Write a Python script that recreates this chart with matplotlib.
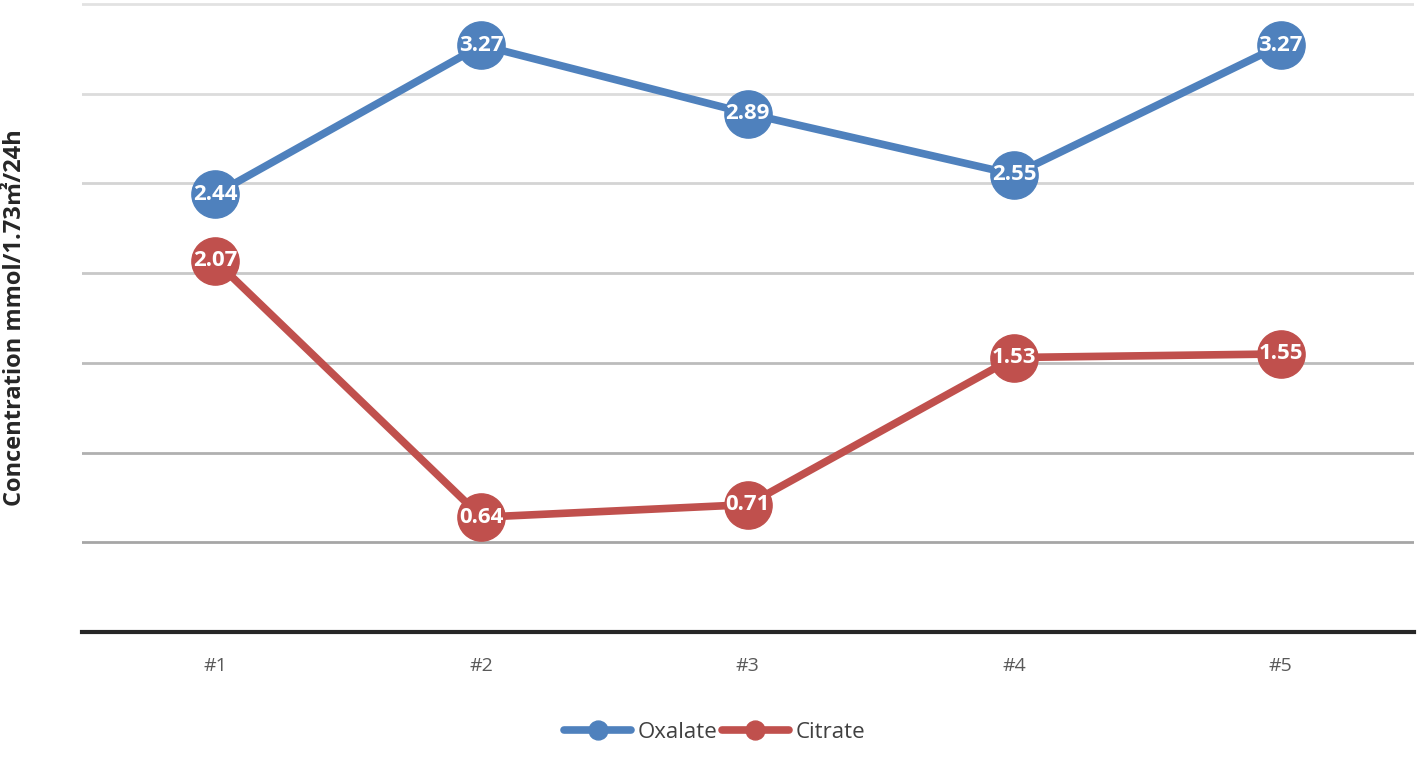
import matplotlib
matplotlib.use('Agg')
import matplotlib.pyplot as plt

plt.rcParams['font.family'] = ['Open Sans', 'Noto Sans CJK SC', 'DejaVu Sans']

categories = ['#1', '#2', '#3', '#4', '#5']
oxalate = [2.44, 3.27, 2.89, 2.55, 3.27]
citrate = [2.07, 0.64, 0.71, 1.53, 1.55]

blue = '#4f81bd'
red = '#c0504d'

fig = plt.figure(figsize=(14.18, 7.59), dpi=100)
ax = fig.add_axes([0.0578, 0.1673, 0.9392, 0.8297])

x = list(range(len(categories)))
for vals, col, name in [(oxalate, blue, 'Oxalate'), (citrate, red, 'Citrate')]:
    ax.plot(x, vals, color=col, lw=5.5, marker='o', ms=34, label=name,
            solid_capstyle='round', zorder=3)
    for xi, v in zip(x, vals):
        ax.text(xi, v, f'{v:.2f}', ha='center', va='center', color='white',
                fontsize=16, fontweight='bold', zorder=4)

ax.set_xlim(-0.5, 4.5)
ax.set_ylim(0, 3.51)
ax.set_yticks([0.5, 1.0, 1.5, 2.0, 2.5, 3.0, 3.5])
ax.set_yticklabels([])
ax.tick_params(axis='y', length=0)
ax.tick_params(axis='x', length=0, labelsize=14, colors='#595959', pad=18)
ax.set_xticks(x)
ax.set_xticklabels(categories)

grid_colors = ['#a6a6a6', '#b0b0b0', '#bcbcbc', '#c8c8c8', '#d4d4d4', '#dcdcdc', '#e2e2e2']
for yv, gc in zip([0.5, 1.0, 1.5, 2.0, 2.5, 3.0, 3.5], grid_colors):
    ax.axhline(yv, color=gc, lw=2, zorder=1)

for s in ['top', 'right', 'left']:
    ax.spines[s].set_visible(False)
ax.spines['bottom'].set_color('#262626')
ax.spines['bottom'].set_linewidth(3)

ax.set_ylabel('Concentration mmol/1.73㎡/24h', fontsize=17, fontweight='bold',
              color='#262626')
ax.yaxis.set_label_coords(-0.041, 0.5)

leg = fig.legend(loc='center', bbox_to_anchor=(0.504, 0.035), ncol=2, frameon=False,
                 fontsize=16, handlelength=3.0, handletextpad=0.3, columnspacing=0.2,
                 markerscale=0.4)
for t in leg.get_texts():
    t.set_color('#404040')

fig.savefig('out.png', dpi=100)
